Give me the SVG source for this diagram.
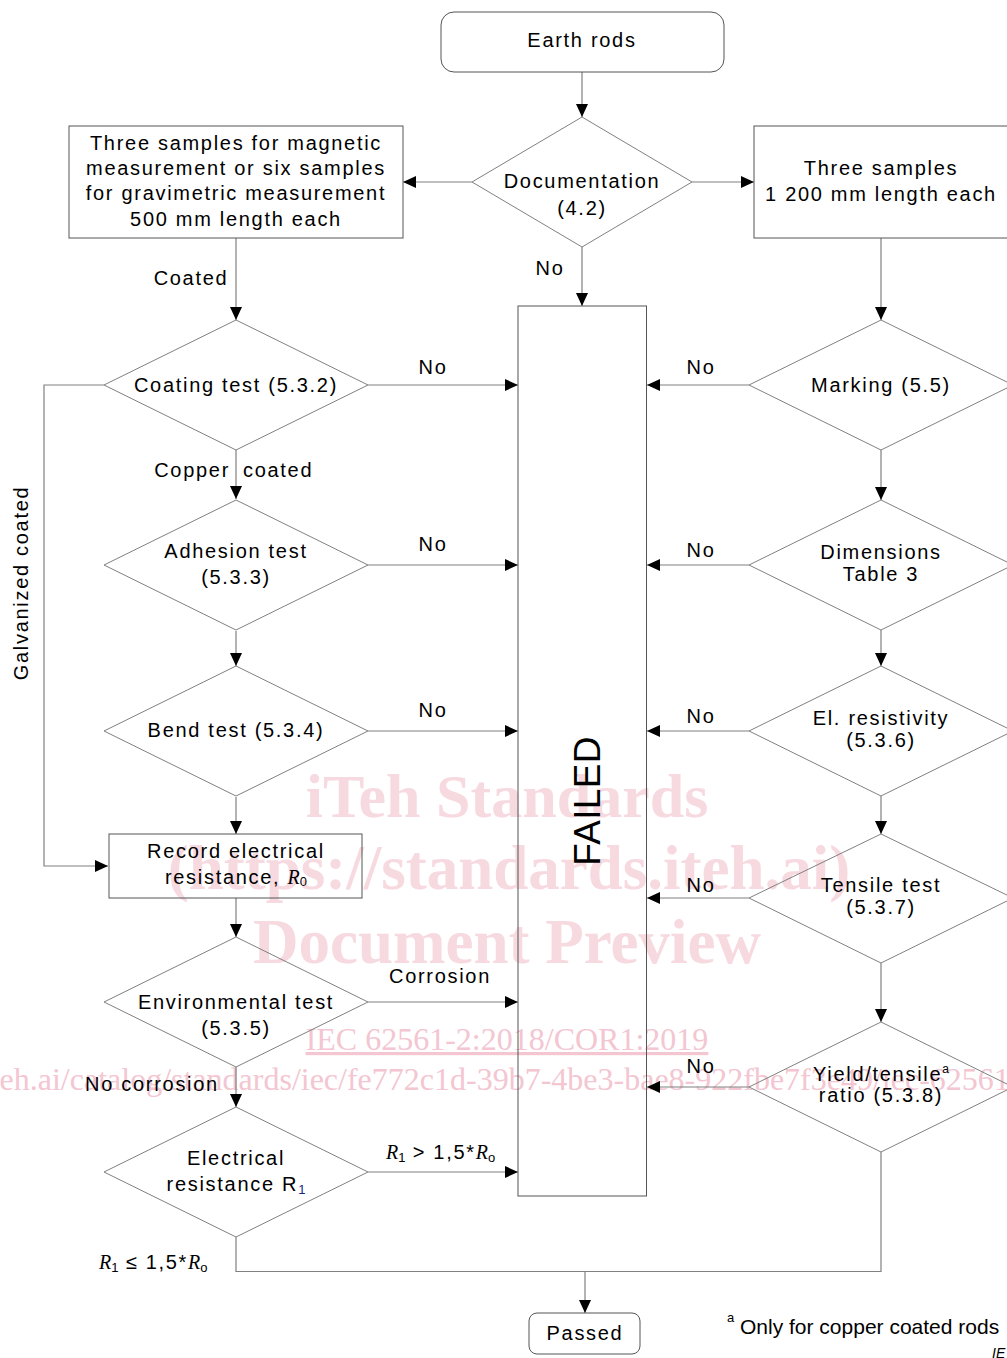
<svg xmlns="http://www.w3.org/2000/svg" width="1007" height="1358" viewBox="0 0 1007 1358">
<defs>
<style>
.t{font-family:"Liberation Sans",Arial,sans-serif;font-size:20px;letter-spacing:1.7px;fill:#000;text-anchor:middle}
.ri{font-family:"Liberation Serif","Times New Roman",serif;font-style:italic;letter-spacing:0}
.sub{font-size:13px;letter-spacing:0}
.node{fill:none;stroke:#555;stroke-width:1}
.dia{fill:none;stroke:#808080;stroke-width:1}
.conn path{fill:none;stroke:#808080;stroke-width:1.2}
.wm{font-family:"Liberation Serif","Times New Roman",serif;fill:#f7d9e0;text-anchor:middle}
</style>
<marker id="ah" markerUnits="userSpaceOnUse" markerWidth="13" markerHeight="12" refX="13" refY="6" orient="auto">
<path d="M0,0 L13,6 L0,12 Z" fill="#000"/>
</marker>
</defs>
<rect width="1007" height="1358" fill="#fff"/>

<g id="watermark">
<text class="wm" x="507" y="817" font-size="62" font-weight="bold">iTeh Standards</text>
<text class="wm" x="509" y="889" font-size="63" font-weight="bold">(https://standards.iteh.ai)</text>
<text class="wm" x="507" y="963" font-size="63" font-weight="bold">Document Preview</text>
<text class="wm" x="507" y="1050" font-size="32" style="fill:#f3c6d1" text-decoration="underline">IEC 62561-2:2018/COR1:2019</text>
<text class="wm" x="-236" y="1090" font-size="32" style="text-anchor:start;fill:#f3c6d1">https://standards.iteh.ai/catalog/standards/iec/fe772c1d-39b7-4be3-bae8-922fbe7f3e49/iec-62561-2-2018-cor1-2019</text>
</g>

<g class="conn" id="connectors">
<path d="M582,72 V117" marker-end="url(#ah)"/>
<path d="M472,182 H403" marker-end="url(#ah)"/>
<path d="M692,182 H754" marker-end="url(#ah)"/>
<path d="M582,247 V306" marker-end="url(#ah)"/>
<path d="M236,238 V320" marker-end="url(#ah)"/>
<path d="M881,238 V320" marker-end="url(#ah)"/>
<path d="M368,385 H518" marker-end="url(#ah)"/>
<path d="M104,385 H44 V866 H108" marker-end="url(#ah)"/>
<path d="M236,450 V499" marker-end="url(#ah)"/>
<path d="M368,565 H518" marker-end="url(#ah)"/>
<path d="M236,631 V666" marker-end="url(#ah)"/>
<path d="M368,731 H518" marker-end="url(#ah)"/>
<path d="M236,797 V834" marker-end="url(#ah)"/>
<path d="M236,898 V937" marker-end="url(#ah)"/>
<path d="M368,1002 H518" marker-end="url(#ah)"/>
<path d="M236,1067 V1107" marker-end="url(#ah)"/>
<path d="M368,1172 H518" marker-end="url(#ah)"/>
<path d="M236,1237 V1271.5 H881 V1152"/>
<path d="M585,1271.5 V1313" marker-end="url(#ah)"/>
<path d="M749,385 H647" marker-end="url(#ah)"/>
<path d="M881,450 V500" marker-end="url(#ah)"/>
<path d="M749,565 H647" marker-end="url(#ah)"/>
<path d="M881,630 V666" marker-end="url(#ah)"/>
<path d="M749,731 H647" marker-end="url(#ah)"/>
<path d="M881,796 V834" marker-end="url(#ah)"/>
<path d="M749,898 H647" marker-end="url(#ah)"/>
<path d="M881,963 V1022" marker-end="url(#ah)"/>
<path d="M749,1087 H647" marker-end="url(#ah)"/>
</g>

<g id="labels">
<text class="t" x="191" y="285">Coated</text>
<text class="t" x="550" y="275">No</text>
<text class="t" x="433" y="374">No</text>
<text class="t" x="230" y="477" style="text-anchor:end">Copper</text>
<text class="t" x="243" y="477" style="text-anchor:start">coated</text>
<text class="t" x="433" y="551">No</text>
<text class="t" x="433" y="717">No</text>
<text class="t" transform="translate(28,583) rotate(-90)">Galvanized coated</text>
<text class="t" x="440" y="983">Corrosion</text>
<text class="t" x="152" y="1091">No corrosion</text>
<text class="t" x="386" y="1159" style="text-anchor:start"><tspan class="ri">R</tspan><tspan class="sub" dy="3">1</tspan><tspan dy="-3"> &gt; 1,5*</tspan><tspan class="ri">R</tspan><tspan class="sub" dy="3">o</tspan></text>
<text class="t" x="99" y="1269" style="text-anchor:start"><tspan class="ri">R</tspan><tspan class="sub" dy="3">1</tspan><tspan dy="-3"> ≤ 1,5*</tspan><tspan class="ri">R</tspan><tspan class="sub" dy="3">o</tspan></text>
<text class="t" x="701" y="374">No</text>
<text class="t" x="701" y="557">No</text>
<text class="t" x="701" y="723">No</text>
<text class="t" x="701" y="892">No</text>
<text class="t" x="701" y="1073">No</text>
</g>

<g id="earth-rods">
<rect class="node" x="441" y="12" width="283" height="60" rx="13"/>
<text class="t" x="582" y="47">Earth rods</text>
</g>
<g id="documentation">
<polygon class="dia" points="582,117 692,182 582,247 472,182"/>
<text class="t" x="582" y="188">Documentation</text>
<text class="t" x="582" y="215">(4.2)</text>
</g>
<g id="samples-left">
<rect class="node" x="69" y="126" width="334" height="112"/>
<text class="t" x="236" y="150">Three samples for magnetic</text>
<text class="t" x="236" y="175">measurement or six samples</text>
<text class="t" x="236" y="200">for gravimetric measurement</text>
<text class="t" x="236" y="226">500 mm length each</text>
</g>
<g id="samples-right">
<rect class="node" x="754" y="126" width="262" height="112"/>
<text class="t" x="881" y="175">Three samples</text>
<text class="t" x="881" y="201">1 200 mm length each</text>
</g>
<g id="failed">
<rect class="node" x="518" y="306" width="128.5" height="890"/>
<text class="t" transform="translate(599.5,801) rotate(-90)" style="font-size:37px;letter-spacing:0.3px">FAILED</text>
</g>
<g id="coating-test">
<polygon class="dia" points="236,320 368,385 236,450 104,385"/>
<text class="t" x="236" y="392">Coating test (5.3.2)</text>
</g>
<g id="adhesion-test">
<polygon class="dia" points="236,500 368,565 236,630 104,565"/>
<text class="t" x="236" y="558">Adhesion test</text>
<text class="t" x="236" y="584">(5.3.3)</text>
</g>
<g id="bend-test">
<polygon class="dia" points="236,666 368,731 236,796 104,731"/>
<text class="t" x="236" y="737">Bend test (5.3.4)</text>
</g>
<g id="record-resistance">
<rect class="node" x="109" y="834" width="253" height="64"/>
<text class="t" x="236" y="858">Record electrical</text>
<text class="t" x="236" y="884">resistance, <tspan class="ri">R</tspan><tspan class="sub" dy="2">0</tspan></text>
</g>
<g id="environmental-test">
<polygon class="dia" points="236,937 368,1002 236,1067 104,1002"/>
<text class="t" x="236" y="1009">Environmental test</text>
<text class="t" x="236" y="1035">(5.3.5)</text>
</g>
<g id="electrical-resistance">
<polygon class="dia" points="236,1107 368,1172 236,1237 104,1172"/>
<text class="t" x="236" y="1165">Electrical</text>
<text class="t" x="236" y="1191">resistance R<tspan class="sub" dy="3" fill="#1a237e">1</tspan></text>
</g>
<g id="marking">
<polygon class="dia" points="881,320 1013,385 881,450 749,385"/>
<text class="t" x="881" y="392">Marking (5.5)</text>
</g>
<g id="dimensions">
<polygon class="dia" points="881,500 1013,565 881,630 749,565"/>
<text class="t" x="881" y="559">Dimensions</text>
<text class="t" x="881" y="581">Table 3</text>
</g>
<g id="el-resistivity">
<polygon class="dia" points="881,666 1013,731 881,796 749,731"/>
<text class="t" x="881" y="725">El. resistivity</text>
<text class="t" x="881" y="747">(5.3.6)</text>
</g>
<g id="tensile-test">
<polygon class="dia" points="881,834 1013,898 881,963 749,898"/>
<text class="t" x="881" y="892">Tensile test</text>
<text class="t" x="881" y="914">(5.3.7)</text>
</g>
<g id="yield-ratio">
<polygon class="dia" points="881,1022 1013,1087 881,1152 749,1087"/>
<text class="t" x="881" y="1081">Yield/tensile<tspan style="font-size:12px;letter-spacing:0" dy="-8">a</tspan></text>
<text class="t" x="881" y="1102">ratio (5.3.8)</text>
</g>
<g id="passed">
<rect class="node" x="529" y="1313" width="111" height="41" rx="8"/>
<text class="t" x="585" y="1340">Passed</text>
</g>
<g id="footnote">
<text class="t" x="727" y="1322" style="text-anchor:start;font-size:13px;letter-spacing:0">a</text>
<text class="t" x="740" y="1334" style="text-anchor:start;font-size:21px;letter-spacing:0">Only for copper coated rods</text>
<text class="t" x="992" y="1358" style="text-anchor:start;font-size:14px;letter-spacing:0;font-style:italic">IE</text>
</g>
</svg>
